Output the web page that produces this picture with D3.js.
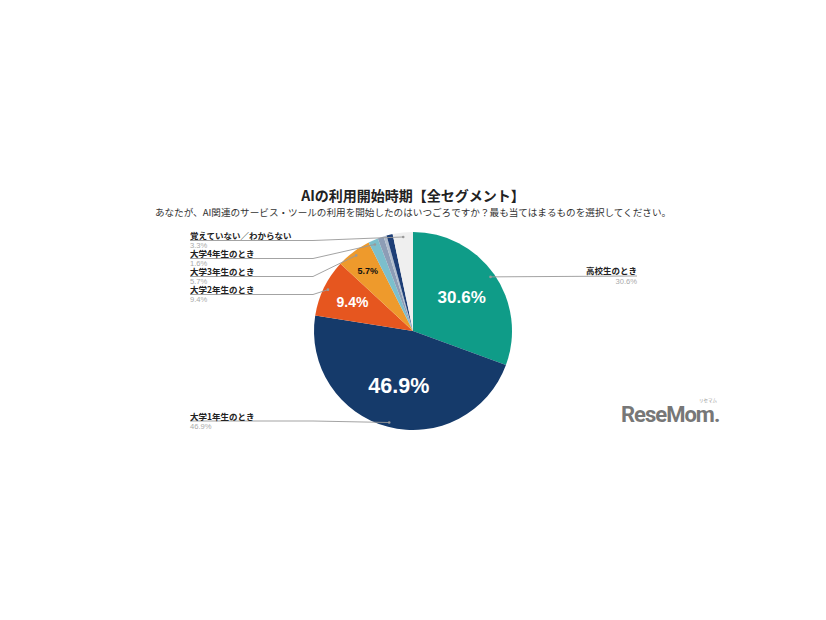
<!DOCTYPE html>
<html><head><meta charset="utf-8">
<script src="https://cdn.jsdelivr.net/npm/d3@7"></script>
<style>body{margin:0;background:#fff}svg{display:block}</style>
</head><body>
<svg id="c" width="826" height="620"></svg>
<script>
const title = "AIの利用開始時期【全セグメント】";
const subtitle = "あなたが、AI関連のサービス・ツールの利用を開始したのはいつごろですか？最も当てはまるものを選択してください。";
const categories = ["高校生のとき","大学1年生のとき","大学2年生のとき","大学3年生のとき","大学4年生のとき","その他A","その他B","その他C","覚えていない／わからない"];
const values = [30.6,46.9,9.4,5.7,1.6,1.0,0.5,1.0,3.3];
const colors = ["#0f9c88","#153a6a","#e6561f","#ee9a2c","#7cbfcc","#8d9db6","#b0bccc","#1d3e76","#efefef"];
const innerLabels = ["30.6%","46.9%","9.4%","5.7%","","","","",""];
const outerLabels = ["30.6%","46.9%","9.4%","5.7%","1.6%","","","","3.3%"];

const JP = '"Noto Sans CJK JP","Noto Sans",sans-serif';
const LAT = '"Liberation Sans",Arial,sans-serif';
const svg = d3.select("#c");
const cx = 413, cy = 331, R = 99;
svg.append("text").attr("x",413).attr("y",201).attr("text-anchor","middle").style("font-family",JP)
  .attr("font-size",14).attr("font-weight","bold").attr("fill","#222").text(title);
svg.append("text").attr("x",413).attr("y",216).attr("text-anchor","middle").style("font-family",JP)
  .attr("font-size",9.6).attr("fill","#333").text(subtitle);

const data = categories.map((c,i)=>({cat:c,value:values[i],color:colors[i],inner:innerLabels[i],outer:outerLabels[i]}));
const pie = d3.pie().sort(null).value(d=>d.value);
const arcs = pie(data);
const arc = d3.arc().innerRadius(0).outerRadius(R);
const g = svg.append("g").attr("transform",`translate(${cx},${cy})`);
g.selectAll("path").data(arcs).join("path").attr("d",arc).attr("fill",d=>d.data.color);

// inner labels
const labelR = {0:0.6,1:0.57,2:0.68,3:0.76};
const innerSize = {0:17,1:21.5,2:14,3:9};
arcs.forEach((a,i)=>{
  if(!a.data.inner) return;
  const c = d3.arc().innerRadius(R*labelR[i]).outerRadius(R*labelR[i]).centroid(a);
  g.append("text").attr("x",c[0]).attr("y",c[1]).attr("dy","0.36em").attr("text-anchor","middle")
    .style("font-family",LAT)
    .attr("font-size",innerSize[i]).attr("font-weight","bold")
    .attr("fill", i===3 ? "#111" : "#fff").text(a.data.inner);
});

// outer labels with leader lines
const pointArc = d3.arc().innerRadius(R*0.955).outerRadius(R*0.955);
const leftLayout = {8:240.5, 4:258.5, 3:276.5, 2:294.5, 1:421};
const lx = 190, elbowX = 313;
const lines = svg.append("g");
arcs.forEach((a,i)=>{
  if(!a.data.outer) return;
  const p = pointArc.centroid(a);
  const px = cx+p[0], py = cy+p[1];
  if(i===0){
    const ly = 276, rx = 637;
    lines.append("path").attr("d",`M${px},${py}L${rx},${ly}`).attr("stroke","#999").attr("stroke-width",0.9).attr("fill","none");
    lines.append("circle").attr("cx",px).attr("cy",py).attr("r",1.3).attr("fill","#999");
    lines.append("text").attr("x",rx).attr("y",ly-2).attr("text-anchor","end").style("font-family",JP).attr("font-size",8.5).attr("font-weight","bold").attr("fill","#222").text(a.data.cat);
    lines.append("text").attr("x",rx).attr("y",ly+7.5).attr("text-anchor","end").attr("font-size",7.6).attr("fill","#aaa").style("font-family",LAT).text(a.data.outer);
  } else {
    const ly = leftLayout[i];
    lines.append("path").attr("d",`M${lx},${ly}L${elbowX},${ly}L${px},${py}`).attr("stroke","#999").attr("stroke-width",0.9).attr("fill","none");
    lines.append("circle").attr("cx",px).attr("cy",py).attr("r",1.3).attr("fill","#999");
    lines.append("text").attr("x",lx).attr("y",ly-1.2).style("font-family",JP).attr("font-size",8.5).attr("font-weight","bold").attr("fill","#222").text(a.data.cat);
    lines.append("text").attr("x",lx).attr("y",ly+7.5).attr("font-size",7.6).attr("fill","#aaa").style("font-family",LAT).text(a.data.outer);
  }
});

// logo
svg.append("text").attr("x",621).attr("y",422).attr("font-size",22).attr("font-weight","bold")
  .style("font-family",'Roboto,"Liberation Sans",sans-serif').attr("fill","#777").attr("letter-spacing",-1).text("ReseMom.");
svg.append("text").attr("x",699).attr("y",402).attr("font-size",4.5).attr("fill","#999").style("font-family",JP).text("リセマム");
</script>
</body></html>
